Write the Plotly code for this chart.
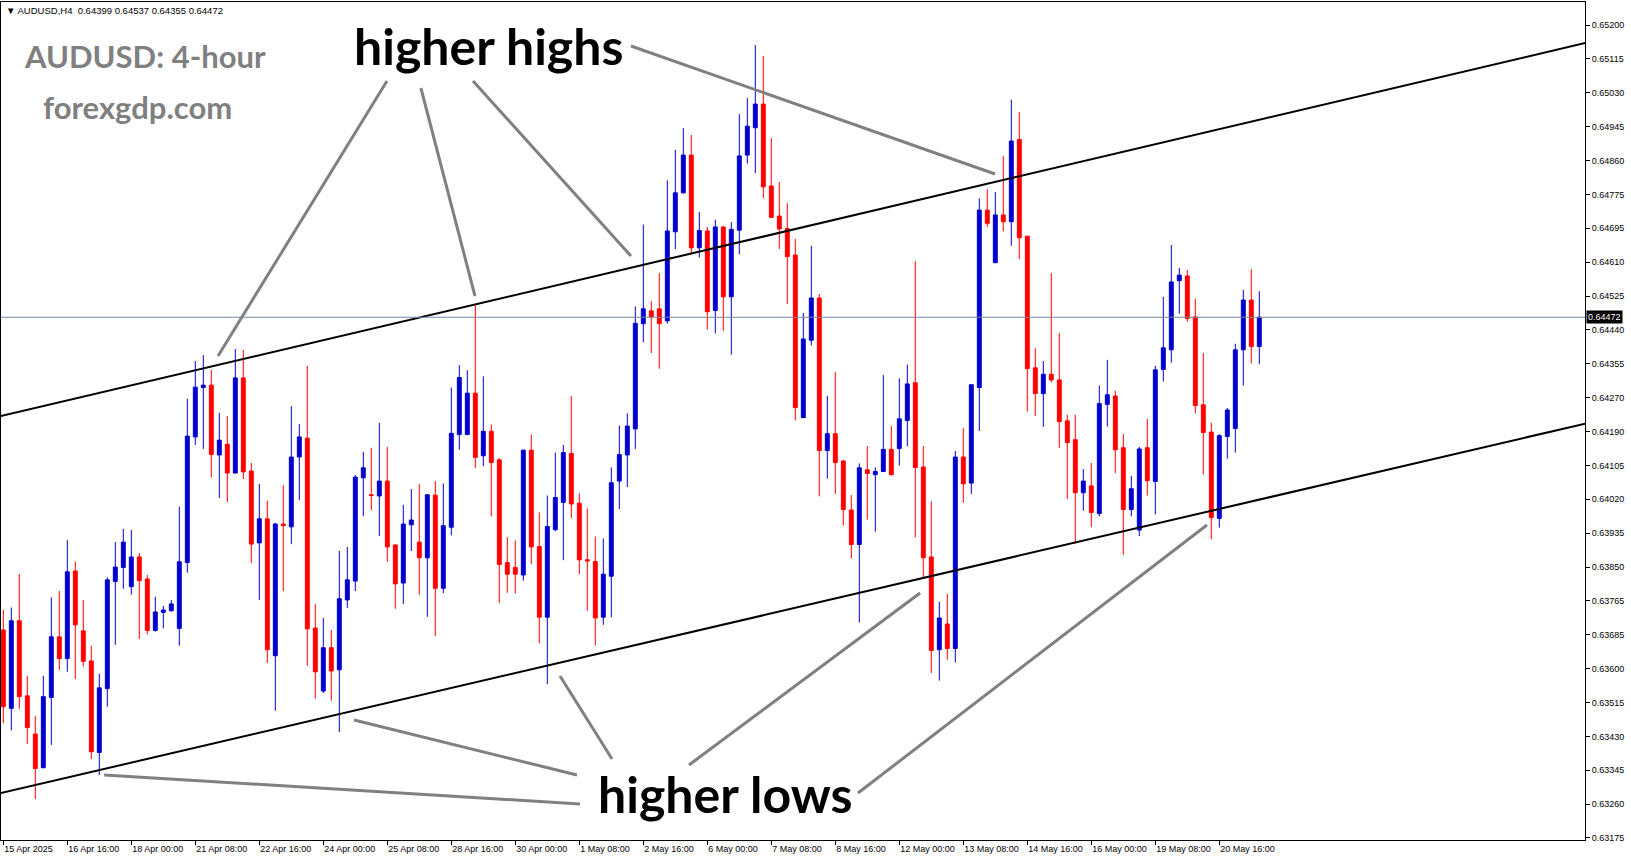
import plotly.graph_objects as go

# ---------------- data (AUDUSD, H4) ----------------
open_ = [0.63693, 0.63498, 0.63716, 0.63529, 0.63434, 0.63350, 0.63525, 0.63676, 0.63622, 0.63840,
         0.63691, 0.63616, 0.63388, 0.63547, 0.63814, 0.63849, 0.63801, 0.63875, 0.63820, 0.63692,
         0.63737, 0.63741, 0.63697, 0.63861, 0.64174, 0.64297, 0.64303, 0.64129, 0.64156, 0.64084,
         0.64321, 0.64089, 0.63910, 0.63970, 0.63629, 0.63957, 0.63950, 0.64124, 0.64171, 0.63698,
         0.63541, 0.63649, 0.63594, 0.63768, 0.63815, 0.64072, 0.64030, 0.64027, 0.64064, 0.63905,
         0.63810, 0.63955, 0.63912, 0.63873, 0.64029, 0.63797, 0.63949, 0.64180, 0.64180, 0.64283,
         0.64127, 0.64188, 0.64117, 0.63861, 0.63849, 0.63830, 0.64141, 0.63901, 0.63725, 0.63943,
         0.64011, 0.64133, 0.64009, 0.63868, 0.63864, 0.63725, 0.63827, 0.64064, 0.64129, 0.64194,
         0.64456, 0.64488, 0.64493, 0.64463, 0.64685, 0.64782, 0.64876, 0.64645, 0.64687, 0.64489,
         0.64697, 0.64523, 0.64689, 0.64876, 0.64944, 0.65003, 0.64799, 0.64724, 0.64693, 0.64627,
         0.64222, 0.64415, 0.64520, 0.64140, 0.64182, 0.64114, 0.63992, 0.63906, 0.64092, 0.64080,
         0.64088, 0.64143, 0.64145, 0.64215, 0.64309, 0.64099, 0.63875, 0.63644, 0.63708, 0.63647,
         0.64124, 0.64059, 0.64297, 0.64739, 0.64608, 0.64727, 0.64710, 0.64915, 0.64674, 0.64346,
         0.64282, 0.64330, 0.64316, 0.64214, 0.64167, 0.64035, 0.64052, 0.63983, 0.64255, 0.64276,
         0.64147, 0.63993, 0.63942, 0.64147, 0.64063, 0.64342, 0.64391, 0.64563, 0.64575, 0.64473,
         0.64254, 0.64186, 0.63971, 0.64175, 0.64195, 0.64391, 0.64515, 0.64399]
high = [0.63743, 0.63749, 0.63833, 0.63579, 0.63479, 0.63579, 0.63774, 0.63790, 0.63917, 0.63863,
        0.63768, 0.63654, 0.63584, 0.63824, 0.63912, 0.63945, 0.63942, 0.63885, 0.63830, 0.63776,
        0.63753, 0.63768, 0.64000, 0.64269, 0.64363, 0.64378, 0.64341, 0.64234, 0.64226, 0.64393,
        0.64391, 0.64109, 0.64057, 0.64015, 0.63960, 0.64054, 0.64251, 0.64206, 0.64351, 0.63758,
        0.63723, 0.63693, 0.63890, 0.63900, 0.64079, 0.64137, 0.64147, 0.64209, 0.64149, 0.63906,
        0.64005, 0.64044, 0.64057, 0.64032, 0.64064, 0.64058, 0.64297, 0.64353, 0.64340, 0.64504,
        0.64325, 0.64205, 0.64121, 0.63924, 0.63916, 0.64142, 0.64180, 0.63986, 0.64028, 0.64135,
        0.64154, 0.64276, 0.64034, 0.63996, 0.63926, 0.63921, 0.64098, 0.64202, 0.64233, 0.64499,
        0.64703, 0.64512, 0.64582, 0.64813, 0.64889, 0.64943, 0.64926, 0.64734, 0.64697, 0.64715,
        0.64699, 0.64709, 0.64978, 0.65018, 0.65150, 0.65123, 0.64918, 0.64809, 0.64756, 0.64667,
        0.64483, 0.64650, 0.64530, 0.64276, 0.64336, 0.64117, 0.64029, 0.64108, 0.64151, 0.64098,
        0.64328, 0.64201, 0.64320, 0.64354, 0.64612, 0.64151, 0.64014, 0.63763, 0.63783, 0.64139,
        0.64196, 0.64305, 0.64768, 0.64791, 0.64784, 0.64874, 0.65014, 0.64983, 0.64675, 0.64395,
        0.64363, 0.64582, 0.64433, 0.64229, 0.64229, 0.64094, 0.64109, 0.64302, 0.64366, 0.64289,
        0.64181, 0.64077, 0.64149, 0.64219, 0.64351, 0.64523, 0.64652, 0.64595, 0.64590, 0.64518,
        0.64383, 0.64209, 0.64181, 0.64246, 0.64406, 0.64540, 0.64592, 0.64537]
low = [0.63461, 0.63443, 0.63497, 0.63409, 0.63272, 0.63349, 0.63407, 0.63594, 0.63589, 0.63571,
       0.63602, 0.63372, 0.63332, 0.63502, 0.63656, 0.63796, 0.63781, 0.63671, 0.63682, 0.63689,
       0.63697, 0.63739, 0.63654, 0.63836, 0.64154, 0.64144, 0.64073, 0.64022, 0.64012, 0.64083,
       0.64069, 0.63860, 0.63768, 0.63611, 0.63492, 0.63790, 0.63907, 0.64017, 0.63604, 0.63522,
       0.63536, 0.63517, 0.63439, 0.63748, 0.63790, 0.63977, 0.63992, 0.63927, 0.63863, 0.63746,
       0.63758, 0.63890, 0.63781, 0.63726, 0.63678, 0.63785, 0.63929, 0.64142, 0.64179, 0.64096,
       0.64101, 0.63976, 0.63760, 0.63786, 0.63784, 0.63816, 0.63857, 0.63660, 0.63558, 0.63939,
       0.63867, 0.63972, 0.63832, 0.63741, 0.63655, 0.63706, 0.63725, 0.63994, 0.64049, 0.64144,
       0.64410, 0.64383, 0.64344, 0.64456, 0.64642, 0.64780, 0.64630, 0.64621, 0.64441, 0.64432,
       0.64438, 0.64379, 0.64629, 0.64855, 0.64831, 0.64769, 0.64719, 0.64642, 0.64505, 0.64215,
       0.64221, 0.64402, 0.64026, 0.64070, 0.64032, 0.63953, 0.63871, 0.63712, 0.63968, 0.63938,
       0.64087, 0.64078, 0.64103, 0.64151, 0.63924, 0.63822, 0.63586, 0.63567, 0.63619, 0.63612,
       0.64010, 0.64032, 0.64189, 0.64697, 0.64607, 0.64686, 0.64650, 0.64617, 0.64237, 0.64226,
       0.64199, 0.64310, 0.64147, 0.64019, 0.63908, 0.63990, 0.63949, 0.63976, 0.64200, 0.64084,
       0.63880, 0.63976, 0.63927, 0.64028, 0.63981, 0.64312, 0.64359, 0.64481, 0.64461, 0.64233,
       0.64080, 0.63919, 0.63948, 0.64120, 0.64135, 0.64302, 0.64357, 0.64355]
close = [0.63502, 0.63716, 0.63527, 0.63450, 0.63348, 0.63527, 0.63676, 0.63622, 0.63838, 0.63706,
         0.63615, 0.63390, 0.63549, 0.63818, 0.63850, 0.63912, 0.63875, 0.63816, 0.63692, 0.63738,
         0.63743, 0.63758, 0.63863, 0.64176, 0.64298, 0.64303, 0.64130, 0.64166, 0.64084, 0.64321,
         0.64087, 0.63907, 0.63970, 0.63644, 0.63957, 0.63953, 0.64124, 0.64174, 0.63696, 0.63589,
         0.63649, 0.63591, 0.63771, 0.63818, 0.64074, 0.64097, 0.64028, 0.64064, 0.63900, 0.63808,
         0.63957, 0.63967, 0.63873, 0.64030, 0.63797, 0.63953, 0.64183, 0.64322, 0.64283, 0.64123,
         0.64188, 0.64110, 0.63856, 0.63832, 0.63832, 0.64141, 0.63900, 0.63725, 0.63951, 0.64023,
         0.64135, 0.64007, 0.63868, 0.63865, 0.63723, 0.63832, 0.64060, 0.64130, 0.64201, 0.64457,
         0.64493, 0.64473, 0.64456, 0.64687, 0.64782, 0.64876, 0.64645, 0.64688, 0.64486, 0.64697,
         0.64523, 0.64691, 0.64874, 0.64948, 0.65003, 0.64797, 0.64721, 0.64692, 0.64623, 0.64247,
         0.64418, 0.64520, 0.64140, 0.64182, 0.64110, 0.63993, 0.63906, 0.64097, 0.64083, 0.64088,
         0.64143, 0.64080, 0.64219, 0.64306, 0.64098, 0.63873, 0.63642, 0.63723, 0.63647, 0.64124,
         0.64057, 0.64304, 0.64739, 0.64706, 0.64727, 0.64710, 0.64911, 0.64670, 0.64344, 0.64282,
         0.64330, 0.64316, 0.64212, 0.64160, 0.64035, 0.64064, 0.63986, 0.64257, 0.64279, 0.64142,
         0.63993, 0.64045, 0.64144, 0.64065, 0.64341, 0.64396, 0.64560, 0.64577, 0.64469, 0.64252,
         0.64185, 0.63973, 0.64177, 0.64241, 0.64391, 0.64515, 0.64399, 0.64472]

time_tick_bars = [0, 8, 16, 24, 32, 40, 48, 56, 64, 72, 80, 88, 96, 104, 112, 120, 128, 136, 144, 152]
time_tick_labels = ["15 Apr 2025", "16 Apr 16:00", "18 Apr 00:00", "21 Apr 08:00", "22 Apr 16:00",
                    "24 Apr 00:00", "25 Apr 08:00", "28 Apr 16:00", "30 Apr 00:00", "1 May 08:00",
                    "2 May 16:00", "6 May 00:00", "7 May 08:00", "8 May 16:00", "12 May 00:00",
                    "13 May 08:00", "14 May 16:00", "16 May 00:00", "19 May 08:00", "20 May 16:00"]
price_tick_labels = ["0.65200", "0.65115", "0.65030", "0.64945", "0.64860", "0.64775", "0.64695",
                     "0.64610", "0.64525", "0.64440", "0.64355", "0.64270", "0.64190", "0.64105",
                     "0.64020", "0.63935", "0.63850", "0.63765", "0.63685", "0.63600", "0.63515",
                     "0.63430", "0.63345", "0.63260", "0.63175"]

# channel lines (bar index, price)
upper_channel_bars = [-0.29, 197.71]
upper_channel_prices = [0.64226, 0.65155]
lower_channel_bars = [-0.29, 197.71]
lower_channel_prices = [0.63287, 0.64207]

# grey pointer lines: (bar, price) -> (bar, price)
pointer_lines = [
    ((47.96, 0.650605), (26.84, 0.643755)),
    ((52.20, 0.650431), (58.96, 0.645250)),
    ((58.71, 0.650605), (78.46, 0.646246)),
    ((78.46, 0.651477), (123.96, 0.648289)),
    ((72.09, 0.632597), (12.60, 0.633320)),
    ((71.71, 0.633320), (43.84, 0.634689)),
    ((76.09, 0.633718), (69.59, 0.635785)),
    ((85.71, 0.633568), (114.60, 0.637852)),
    ((106.84, 0.632871), (150.46, 0.639546)),
]

# ---------------- layout geometry ----------------
W, H = 1631, 861
ML, MR, MT, MB = 1, 46, 2, 21
PW, PH = W - ML - MR, H - MT - MB
X_RANGE = [-0.2875, 197.7125]
Y_RANGE = [0.63170, 0.652573]


def px(xp):
    return (xp - ML) / PW


def py(yp):
    return 1 - (yp - MT) / PH


bars = list(range(len(close)))
price_tick_vals = [0.652 - k * (0.652 - 0.63175) / (len(price_tick_labels) - 1)
                   for k in range(len(price_tick_labels))]

BLUE = "#0000CD"
RED = "#FF0000"
GREY = "#808080"
SMALL = dict(family="Liberation Sans, Arial, sans-serif", size=9, color="black")

fig = go.Figure()


def extend(xs, ys, x0=-5, x1=205):
    s = (ys[1] - ys[0]) / (xs[1] - xs[0])
    return [x0, x1], [ys[0] + s * (x0 - xs[0]), ys[0] + s * (x1 - xs[0])]


for xs, ys in [(upper_channel_bars, upper_channel_prices), (lower_channel_bars, lower_channel_prices)]:
    ex, ey = extend(xs, ys)
    fig.add_trace(go.Scatter(x=ex, y=ey, mode="lines", line=dict(color="black", width=2),
                             hoverinfo="skip"))

# current price line
fig.add_trace(go.Scatter(x=[-5, 205], y=[close[-1], close[-1]], mode="lines",
                         line=dict(color="#778899", width=1), hoverinfo="skip"))

fig.add_trace(go.Candlestick(
    x=bars, open=open_, high=high, low=low, close=close,
    increasing=dict(line=dict(color=BLUE, width=1), fillcolor=BLUE),
    decreasing=dict(line=dict(color=RED, width=1), fillcolor=RED),
    whiskerwidth=0,
))

for (a, b) in pointer_lines:
    fig.add_trace(go.Scatter(x=[a[0], b[0]], y=[a[1], b[1]], mode="lines",
                             line=dict(color=GREY, width=3), hoverinfo="skip"))

annotations = [
    dict(x=px(4), y=py(11), xref="paper", yref="paper", xanchor="left", yanchor="middle",
         text="\u25bc AUDUSD,H4\u00a0\u00a0" + " ".join(f"{v:.5f}" for v in
                                                    (open_[-1], high[-1], low[-1], close[-1])),
         showarrow=False, font=dict(family="Liberation Sans, Arial, sans-serif", size=9.5,
                                    color="black")),
    dict(x=px(22), y=py(56), xref="paper", yref="paper", xanchor="left", yanchor="middle",
         text="AUDUSD: 4-hour", showarrow=False,
         font=dict(family="Lato", size=31, color=GREY, weight="bold")),
    dict(x=px(41), y=py(107), xref="paper", yref="paper", xanchor="left", yanchor="middle",
         text="forexgdp.com", showarrow=False,
         font=dict(family="Lato", size=31, color=GREY, weight="bold")),
    dict(x=px(488.5), y=py(46), xref="paper", yref="paper", xanchor="center", yanchor="middle",
         text="higher highs", showarrow=False,
         font=dict(family="Lato", size=50, color="black", weight="bold")),
    dict(x=px(724.5), y=py(794), xref="paper", yref="paper", xanchor="center", yanchor="middle",
         text="higher lows", showarrow=False,
         font=dict(family="Lato", size=50, color="black", weight="bold")),
    dict(x=1, y=close[-1], xref="paper", yref="y", xanchor="left", yanchor="middle",
         text=f"{close[-1]:.5f}", showarrow=False, bgcolor="black", borderpad=1, xshift=1,
         font=dict(family="Liberation Sans, Arial, sans-serif", size=9, color="white")),
]

fig.update_layout(
    width=W, height=H,
    margin=dict(l=ML, r=MR, t=MT, b=MB, pad=0),
    paper_bgcolor="white", plot_bgcolor="white",
    showlegend=False,
    boxgap=0.3, boxgroupgap=0.3,
    annotations=annotations,
    xaxis=dict(range=X_RANGE, showgrid=False, zeroline=False, showline=True, mirror=True,
               linecolor="black", linewidth=1, ticks="outside", ticklen=4, tickcolor="black",
               tickvals=time_tick_bars, ticktext=time_tick_labels, ticklabelposition="outside right",
               tickfont=SMALL, rangeslider=dict(visible=False), fixedrange=True),
    yaxis=dict(range=Y_RANGE, side="right", showgrid=False, zeroline=False, showline=True,
               mirror=True, linecolor="black", linewidth=1, ticks="outside", ticklen=4,
               tickcolor="black", tickvals=price_tick_vals, ticktext=price_tick_labels,
               tickfont=SMALL, fixedrange=True),
)

fig.write_html("out.html", config={"displayModeBar": False},
               post_script="document.body.style.margin='0';document.body.style.overflow='hidden';")
